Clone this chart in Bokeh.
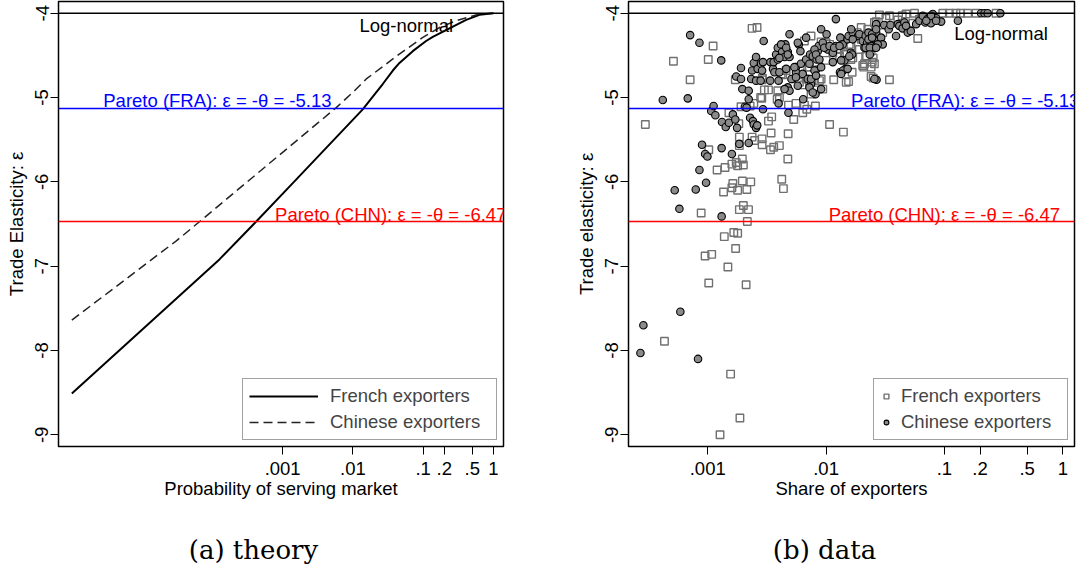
import numpy as np
from bokeh.plotting import figure
from bokeh.models import (Span, Label, Legend, LegendItem, FixedTicker, Range1d)
from bokeh.layouts import row, column
from bokeh.embed import file_html
from bokeh.resources import INLINE

# ---------------- data ----------------
# (a) theory curves: probability of serving market vs trade elasticity
theory_prob_fra = [1e-6, 1.26e-4, 4.21e-4, 1.45e-3, 0.0138, 0.0192, 0.0266, 0.0370,
                   0.0460, 0.0711, 0.110, 0.137, 0.237, 0.409, 0.632, 1.0]
theory_eps_fra = [-8.51, -6.92, -6.47, -6.00, -5.14, -4.99, -4.84, -4.68,
                  -4.59, -4.45, -4.33, -4.28, -4.18, -4.08, -4.02, -4.00]
theory_prob_chn = [1e-6, 3.07e-5, 6.61e-5, 5.79e-3, 0.01054, 0.0155, 0.0417,
                   0.0977, 0.170, 0.295, 0.631, 1.0]
theory_eps_chn = [-7.64, -6.70, -6.47, -5.12, -4.92, -4.78, -4.51,
                  -4.29, -4.17, -4.09, -4.01, -4.00]

# (b) data: share of exporters vs trade elasticity
fra_share = [2.97e-4, 5.13e-4, 4.31e-4, 7.1e-4, 8.8e-4, 1.01e-3, 1.11e-3, 1.02e-3, 0.95e-3, 1.08e-3,
             1.02e-3, 1.48e-3, 1.27e-3, 1.56e-3, 1.87e-3, 2.11e-3, 1.2e-3, 1.4e-3, 1.36e-3, 1.38e-3,
             1.66e-3, 1.79e-3, 1.72e-3, 1.85e-3, 2.21e-3, 2.0e-3, 2.16e-3, 1.63e-3, 1.6e-3, 1.79e-3,
             2.14e-3, 1.96e-3, 2.31e-3, 1.6e-3, 1.79e-3, 2.0e-3, 1.74e-3, 1.96e-3, 1.85e-3, 1.85e-3,
             1.51e-3, 1.83e-3, 1.71e-3, 2.37e-3, 2.49e-3, 2.88e-3, 2.88e-3, 3.43e-3, 3.39e-3, 3.61e-3,
             4.03e-3, 4.78e-3, 4.75e-3, 4.22e-3, 4.36e-3, 3.26e-3, 3.47e-3, 2.86e-3, 3.01e-3, 3.26e-3,
             2.45e-3, 1.91e-3, 2.28e-3, 2.37e-3, 2.61e-3, 2.88e-3, 3.91e-3, 3.86e-3, 4.81e-3, 5.33e-3,
             5.57e-3, 6.35e-3, 6.56e-3, 6.87e-3, 8.13e-3, 7.46e-3, 8.22e-3, 9.37e-3, 6.47e-3, 7.23e-3,
             7.98e-3, 9.08e-3, 6.78e-3, 7.23e-3, 4.3e-3, 7.46e-3, 6.56e-3, 9.08e-3, 1.0e-2, 1.16e-2,
             1.07e-2, 1.40e-2, 1.55e-2, 1.66e-2, 1.68e-2, 1.46e-2, 1.28e-2, 1.0e-2, 1.14e-2, 1.57e-2,
             1.83e-2, 1.98e-2, 2.11e-2, 2.08e-2, 2.4e-2, 2.56e-2, 2.4e-2, 2.5e-2, 3.43e-2, 2.2e-2,
             1.91e-2, 2.25e-2, 2.4e-2, 2.65e-2, 3.01e-2, 3.43e-2, 4.04e-2, 4.59e-2, 4.74e-2, 5.58e-2,
             5.95e-2, 5.41e-2, 6.15e-2, 9.68e-2, 0.110, 0.125, 0.157, 0.185, 0.273, 4.17e-3,
             4.6e-3, 5.95e-3, 7.0e-3, 8.78e-3, 1.07e-2, 1.30e-2, 1.43e-2, 1.62e-2, 1.62e-2, 2.16e-2,
             2.04e-2, 1.98e-2, 2.56e-2, 2.9e-3, 2.8e-3, 4.03e-3, 1.48e-2, 2.82e-2, 4.4e-2, 3.2e-2,
             2.45e-2, 2.5e-2, 6.4e-2, 0.137]
fra_eps = [-5.32, -4.57, -7.89, -4.79, -6.37, -4.55, -4.39, -5.62, -6.88, -6.86,
           -7.20, -7.01, -9.00, -8.28, -8.80, -7.22, -5.86, -5.83, -6.12, -6.65,
           -6.60, -6.61, -6.79, -6.33, -6.33, -6.28, -6.47, -6.02, -6.07, -6.10,
           -6.09, -5.99, -6.00, -5.79, -5.81, -5.80, -5.77, -5.73, -5.47, -5.57,
           -5.18, -5.31, -4.79, -5.47, -5.51, -5.49, -5.56, -5.42, -5.62, -5.59,
           -5.57, -5.43, -5.73, -5.97, -6.08, -5.28, -5.23, -5.01, -4.91, -4.91,
           -5.07, -5.11, -5.10, -4.18, -4.17, -4.79, -4.92, -5.02, -5.09, -5.26,
           -5.07, -5.18, -5.09, -5.14, -5.10, -4.96, -4.91, -4.90, -4.85, -4.84,
           -4.80, -4.78, -4.78, -4.64, -4.73, -4.27, -4.33, -4.34, -4.56, -4.79,
           -5.32, -5.41, -4.81, -4.70, -4.53, -4.49, -4.43, -4.35, -4.47, -4.37,
           -4.23, -4.31, -4.60, -4.64, -4.64, -4.60, -4.75, -4.77, -4.79, -4.51,
           -4.43, -4.19, -4.45, -4.10, -4.23, -4.03, -4.08, -4.13, -4.01, -4.00,
           -4.30, -4.12, -4.07, -4.00, -4.00, -4.00, -4.00, -4.00, -4.00, -4.72,
           -4.68, -4.82, -4.64, -4.80, -4.37, -4.51, -4.47, -4.39, -4.55, -4.51,
           -4.62, -4.17, -4.11, -4.77, -5.00, -5.00, -4.82, -4.02, -4.03, -4.06,
           -4.58, -4.53, -4.05, -4.00]

chn_share = [2.70e-4, 2.86e-4, 5.87e-4, 8.28e-4, 5.26e-4, 5.76e-4, 7.92e-4, 9.68e-4, 8.51e-4, 8.95e-4,
             9.5e-4, 9.94e-4, 1.31e-3, 1.31e-3, 1.6e-3, 4.17e-4, 6.78e-4, 7.1e-4, 8.51e-4, 1.3e-3,
             1.07e-3, 1.12e-3, 1.16e-3, 1.32e-3, 1.42e-3, 1.51e-3, 1.63e-3, 1.71e-3, 1.77e-3, 1.74e-3,
             1.91e-3, 1.91e-3, 1.96e-3, 2.06e-3, 2.22e-3, 2.13e-3, 2.28e-3, 2.41e-3, 2.45e-3, 2.56e-3,
             2.62e-3, 1.85e-3, 2.22e-3, 2.93e-3, 2.33e-3, 2.37e-3, 2.45e-3, 2.56e-3, 2.64e-3, 2.82e-3,
             2.93e-3, 2.97e-3, 2.88e-3, 3.39e-3, 3.56e-3, 3.37e-3, 3.61e-3, 3.78e-3, 3.91e-3, 3.97e-3,
             4.25e-3, 4.46e-3, 4.53e-3, 4.6e-3, 4.75e-3, 4.91e-3, 4.91e-3, 4.75e-3, 4.91e-3, 3.97e-3,
             4.81e-3, 5.2e-3, 5.57e-3, 5.57e-3, 5.88e-3, 6.07e-3, 6.13e-3, 6.35e-3, 6.41e-3, 6.78e-3,
             6.78e-3, 7.0e-3, 7.32e-3, 7.46e-3, 7.71e-3, 8.13e-3, 8.22e-3, 8.33e-3, 8.5e-3, 8.66e-3,
             9.08e-3, 9.08e-3, 9.37e-3, 1.01e-2, 1.03e-2, 1.14e-2, 1.21e-2, 1.21e-2, 1.32e-2, 1.31e-2,
             1.38e-2, 1.43e-2, 1.46e-2, 1.52e-2, 1.55e-2, 1.62e-2, 1.68e-2, 1.86e-2, 1.91e-2, 2.04e-2,
             2.11e-2, 2.16e-2, 2.22e-2, 2.28e-2, 2.34e-2, 2.4e-2, 2.56e-2, 2.65e-2, 2.65e-2, 2.73e-2,
             2.92e-2, 3.01e-2, 3.1e-2, 3.38e-2, 3.5e-2, 3.9e-2, 4.04e-2, 4.16e-2, 4.43e-2, 4.59e-2,
             4.9e-2, 5.2e-2, 5.77e-2, 6.15e-2, 6.56e-2, 6.9e-2, 7.21e-2, 7.7e-2, 7.97e-2, 8.5e-2,
             9.38e-2, 0.13, 0.204, 0.218, 0.232, 0.297, 2.67e-2, 1.66e-2, 1.39e-2, 3.66e-3,
             4.03e-3, 2.22e-3, 2.56e-3, 2.8e-3, 3.91e-3, 1.63e-2, 1.68e-2, 2.28e-2, 2.45e-2, 2.65e-2,
             2.73e-2, 2.56e-2, 2.16e-2, 4.17e-3, 4.6e-3, 4.75e-3, 4.03e-3, 5.77e-3, 7.98e-3, 9.66e-3,
             1.07e-2, 1.17e-2, 1.30e-2, 8.22e-3, 8.78e-3, 1.14e-2, 1.34e-2, 1.57e-2, 1.52e-2, 1.34e-2,
             5.4e-3, 7.23e-3, 5.1e-3, 5.57e-3, 7.46e-3, 7.98e-3, 8.22e-3, 9.08e-3, 5.77e-3, 7.23e-3,
             7.71e-3, 4.46e-3, 2.56e-2, 4.74e-2, 7.7e-2, 7.03e-2, 8.5e-2, 2.34e-2, 2.65e-2, 2.34e-2,
             2.45e-2]
chn_eps = [-8.03, -7.70, -7.54, -8.10, -6.10, -6.32, -6.09, -6.01, -5.86, -5.56,
           -5.67, -5.70, -5.60, -6.41, -5.67, -5.03, -5.01, -4.26, -4.35, -4.56,
           -5.16, -5.10, -5.21, -5.29, -5.35, -5.30, -5.20, -5.26, -5.36, -4.75,
           -4.65, -4.78, -4.90, -5.11, -5.02, -5.12, -5.24, -5.28, -5.32, -5.36,
           -5.33, -5.55, -5.54, -5.14, -4.78, -4.68, -4.59, -4.52, -4.66, -4.60,
           -4.58, -4.33, -4.68, -4.58, -4.66, -4.80, -4.58, -4.49, -4.41, -4.80,
           -4.46, -4.52, -4.37, -4.66, -4.46, -4.25, -4.52, -4.88, -4.92, -5.07,
           -5.18, -4.78, -4.64, -4.70, -4.37, -4.45, -4.60, -4.72, -5.02, -4.29,
           -4.55, -4.78, -4.49, -4.84, -4.51, -4.96, -4.67, -4.55, -4.45, -4.39,
           -4.19, -4.90, -4.35, -4.25, -4.43, -4.47, -4.07, -4.39, -4.29, -4.70,
           -4.37, -4.56, -4.66, -4.31, -4.27, -4.47, -4.23, -4.27, -4.25, -4.33,
           -4.41, -4.27, -4.35, -4.23, -4.33, -4.39, -4.27, -4.23, -4.13, -4.33,
           -4.29, -4.37, -4.14, -4.19, -4.14, -4.27, -4.13, -4.15, -4.18, -4.11,
           -4.23, -4.21, -4.13, -4.09, -4.03, -4.11, -4.07, -4.12, -4.01, -4.06,
           -4.10, -4.09, -4.00, -4.00, -4.00, -4.00, -4.79, -4.49, -4.68, -4.70,
           -4.70, -4.92, -4.80, -4.80, -4.55, -4.19, -4.31, -4.31, -4.25, -4.19,
           -4.37, -4.41, -4.41, -4.37, -4.41, -4.49, -4.53, -4.35, -4.43, -4.41,
           -4.39, -4.41, -4.39, -4.49, -4.55, -4.58, -4.56, -4.51, -4.66, -4.72,
           -4.64, -4.60, -4.78, -4.76, -4.78, -4.68, -4.74, -4.64, -4.86, -4.88,
           -4.94, -4.90, -4.78, -4.15, -4.03, -4.09, -4.09, -4.41, -4.41, -4.49,
           -4.29]

# reference elasticities
lognormal_eps = -4.0
pareto_fra = -5.13
pareto_chn = -6.47
label_fra = "Pareto (FRA): \u03b5 = -\u03b8 = -5.13"
label_chn = "Pareto (CHN): \u03b5 = -\u03b8 = -6.47"

x_ticks = [0.001, 0.01, 0.1, 0.2, 0.5, 1]
x_tick_labels = {0.001: ".001", 0.01: ".01", 0.1: ".1", 0.2: ".2", 0.5: ".5", 1: "1"}
y_ticks = [-9, -8, -7, -6, -5, -4]
y_tick_labels = {t: str(t) for t in y_ticks}

FONT = "Liberation Sans"
FS = "18.5px"
Y_RANGE = (-9.1386, -3.8614)


def make_fig(x_range, xlabel, ylabel, mbl, mbr, fw):
    p = figure(x_axis_type="log", x_range=Range1d(*x_range), y_range=Range1d(*Y_RANGE),
               frame_width=fw, frame_height=445, min_border_left=mbl, min_border_right=mbr,
               min_border_top=1, min_border_bottom=58, output_backend="svg",
               toolbar_location=None, background_fill_color="white",
               border_fill_color="white")
    p.grid.visible = False
    p.outline_line_color = "black"
    p.outline_line_width = 1.5
    for ax in (p.xaxis[0], p.yaxis[0]):
        ax.axis_line_color = None
        ax.major_tick_out = 8
        ax.major_tick_in = 0
        ax.minor_tick_out = 0
        ax.minor_tick_in = 0
        ax.major_tick_line_color = "black"
        ax.major_tick_line_width = 1
        ax.major_label_text_font = FONT
        ax.major_label_text_font_size = FS
        ax.major_label_text_color = "black"
        ax.axis_label_text_font = FONT
        ax.axis_label_text_font_size = FS
        ax.axis_label_text_font_style = "normal"
        ax.axis_label_text_color = "black"
    p.xaxis[0].major_label_standoff = 7
    p.xaxis[0].axis_label_standoff = 0
    p.yaxis[0].major_label_standoff = 2
    p.yaxis[0].axis_label_standoff = 6
    p.xaxis[0].ticker = FixedTicker(ticks=x_ticks)
    p.xaxis[0].major_label_overrides = x_tick_labels
    p.yaxis[0].ticker = FixedTicker(ticks=y_ticks)
    p.yaxis[0].major_label_overrides = y_tick_labels
    p.yaxis[0].major_label_orientation = "vertical"
    p.xaxis[0].axis_label = xlabel
    p.yaxis[0].axis_label = ylabel
    p.add_layout(Span(location=lognormal_eps, dimension="width", line_color="black", line_width=1.5))
    p.add_layout(Span(location=pareto_fra, dimension="width", line_color="#0000ff", line_width=1.5))
    p.add_layout(Span(location=pareto_chn, dimension="width", line_color="#ff0000", line_width=1.5))
    return p


def add_text(p, x, y, text, color, yoff):
    p.add_layout(Label(x=x, y=y, text=text, text_color=color, text_font=FONT,
                       text_font_size=FS, text_baseline="alphabetic", text_align="left",
                       y_offset=yoff))


# ---------------- (a) theory ----------------
p1 = make_fig((6.46e-7, 1.39), "Probability of serving market", "Trade Elasticity: \u03b5",
              58, 53, 445)
r_fra = p1.line(theory_prob_fra, theory_eps_fra, line_color="black", line_width=2)
r_chn = p1.line(theory_prob_chn, theory_eps_chn, line_color="#222222", line_width=1.5,
                line_dash="9 5")
add_text(p1, 2.8e-6, pareto_fra, label_fra, "#0000ff", 8)
add_text(p1, 7.8e-4, pareto_chn, label_chn, "#ff0000", 7)
add_text(p1, 0.0124, lognormal_eps, "Log-normal", "black", -12)
leg1 = Legend(items=[LegendItem(label="French exporters", renderers=[r_fra]),
                     LegendItem(label="Chinese exporters", renderers=[r_chn])],
              location=(184, 6), glyph_width=69, glyph_height=20, label_height=20,
              label_width=160, label_standoff=12, spacing=4, padding=6, margin=0,
              label_text_font=FONT, label_text_font_size=FS,
              border_line_color="#444444", border_line_width=1.5,
              background_fill_alpha=1.0)
p1.add_layout(leg1, "center")

# ---------------- (b) data ----------------
p2 = make_fig((2.14e-4, 1.256), "Share of exporters", "Trade elasticity: \u03b5", 72, 7, 446)
r_sq = p2.scatter(fra_share, fra_eps, marker="square", size=7.5, fill_color=None,
                  line_color="#707070", line_width=1.4)
r_ci = p2.scatter(chn_share, chn_eps, marker="circle", size=7.5, fill_color="#8a8a8a",
                  line_color="black", line_width=1.1)
add_text(p2, 0.01626, pareto_fra, label_fra, "#0000ff", 8)
add_text(p2, 0.01052, pareto_chn, label_chn, "#ff0000", 7)
add_text(p2, 0.121, lognormal_eps, "Log-normal", "black", -20)
leg2 = Legend(items=[LegendItem(label="French exporters", renderers=[r_sq]),
                     LegendItem(label="Chinese exporters", renderers=[r_ci])],
              location=(245, 6), glyph_width=12, glyph_height=20, label_height=20,
              label_width=160, label_standoff=9, spacing=4, padding=6, margin=0,
              label_text_font=FONT, label_text_font_size=FS,
              border_line_color="#444444", border_line_width=1.5,
              background_fill_alpha=1.0)
p2.add_layout(leg2, "center")

# ---------------- captions ----------------
cap = figure(width=1081, height=60, x_range=Range1d(0, 1081), y_range=Range1d(0, 60),
             output_backend="svg", toolbar_location=None, min_border=0)
cap.axis.visible = False
cap.grid.visible = False
cap.outline_line_color = None
for cx, txt in ((253, "(a) theory"), (824, "(b) data")):
    cap.add_layout(Label(x=cx, y=15, text=txt, text_font="DejaVu Serif",
                         text_font_size="26px", text_align="center",
                         text_baseline="middle", text_color="black"))

layout = column(row(p1, p2, spacing=0), cap, spacing=0)
open("out.html", "w").write(file_html(layout, INLINE))
